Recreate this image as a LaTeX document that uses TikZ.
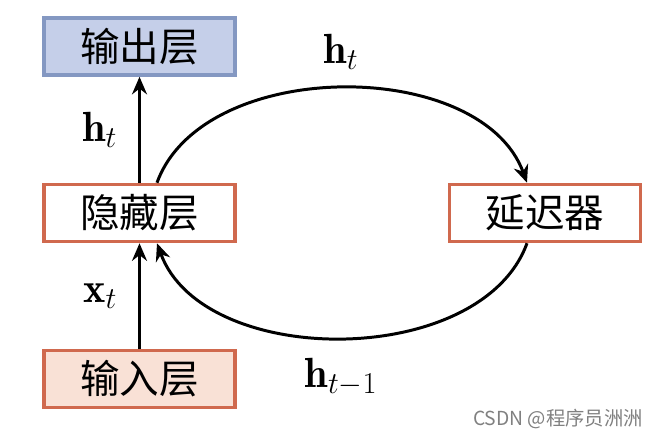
\documentclass[tikz,border=0pt]{standalone}
\usepackage{fontspec}
\usepackage{amsmath}
\newfontfamily\cjk{Noto Sans CJK SC}
\usetikzlibrary{arrows.meta,positioning}
\definecolor{outfill}{HTML}{C5CFE9}
\definecolor{outdraw}{HTML}{8498C2}
\definecolor{redline}{HTML}{D0694E}
\definecolor{infill}{HTML}{F9E1D6}
\begin{document}
\begin{tikzpicture}[
    layer/.style={rectangle, draw=redline, line width=2pt, inner sep=0pt,
        minimum width=3.82cm, minimum height=1.14cm,
        font=\cjk\fontsize{22.5}{26}\selectfont},
    lbl/.style={font=\fontsize{24}{28}\selectfont},
    >={Stealth[length=10pt,width=8.5pt]}, line width=1.7pt
]
            \useasboundingbox (0,0) rectangle (13.18,8.76);
            % Nodes
            \node (out) [layer, draw=outdraw, fill=outfill] at (2.79, 7.83) {输出层};
            \node (hid) [layer] at (2.79, 4.5) {隐藏层};
            \node (in) [layer, fill=infill] at (2.79, 1.18) {输入层};
            \node (delay) [layer] at (10.9, 4.5) {延迟器};
            \node (ht) [lbl] at (6.82, 7.72) {$\mathbf{h}_t$};
            \node (hprev) [lbl] at (6.82, 1.22) {$\mathbf{h}_{t-1}$};
            \node (mark) [font=\cjk\fontsize{11}{13}\selectfont, text=gray] at (11.16, 0.38) {CSDN @程序员洲洲};
            
            % Edges
            \draw[->] (in) -- (hid) node[lbl, midway, left=0.3cm] {$\mathbf{x}_t$};
            \draw[->] (hid) -- (out) node[lbl, midway, left=0.3cm] {$\mathbf{h}_t$};
            % loop through the delay
            \draw[->] ([xshift=0.35cm]hid.north) to [out=70, in=110, looseness=0.93] ([xshift=-0.36cm]delay.north);
            \draw[->] ([xshift=-0.36cm]delay.south) to [out=-110, in=-70, looseness=0.93] ([xshift=0.35cm]hid.south);
            
        \end{tikzpicture}
\end{document}
